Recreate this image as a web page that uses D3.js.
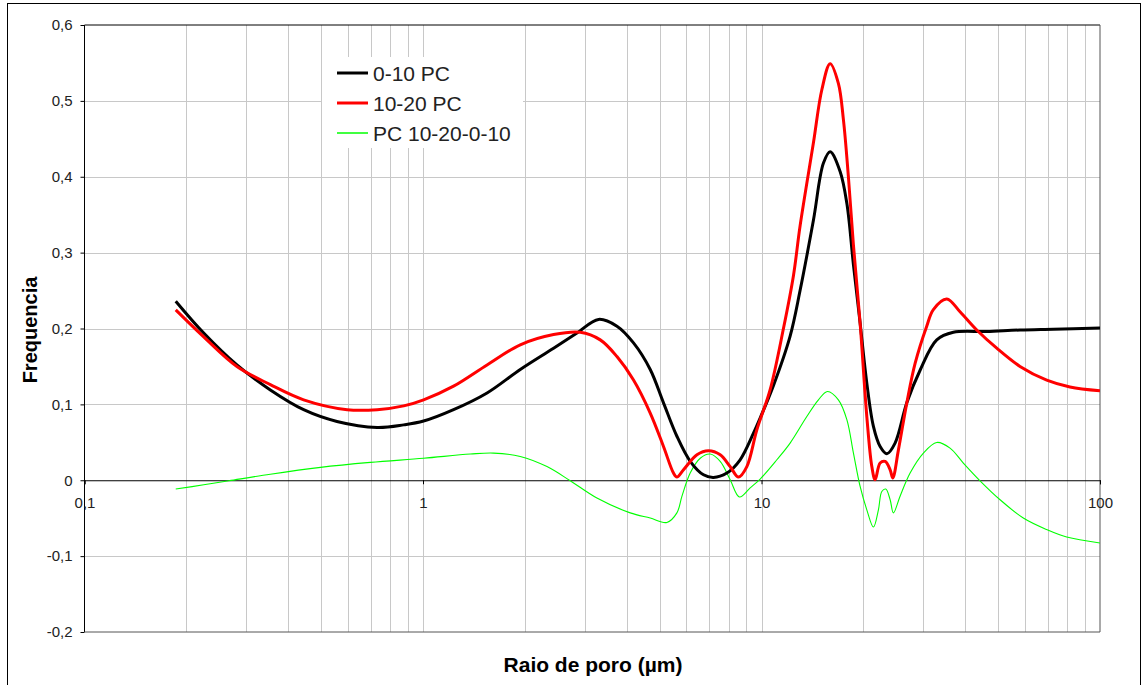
<!DOCTYPE html>
<html>
<head>
<meta charset="utf-8">
<script src="https://cdn.jsdelivr.net/npm/d3@7"></script>
<style>
  body { margin: 0; background: #fff; }
  text { font-family: "Liberation Sans", Arial, sans-serif; }
</style>
</head>
<body>
<svg id="chart" width="1145" height="685"></svg>
<script>
// Axis ticks
const xTickValues = [0.1, 1, 10, 100];
const xTickLabels = ["0,1", "1", "10", "100"];
const yTickValues = [-0.2, -0.1, 0, 0.1, 0.2, 0.3, 0.4, 0.5, 0.6];

// Series names
const seriesNames = ["0-10 PC", "10-20 PC", "PC 10-20-0-10"];

// 0-10 PC : pore radius (µm) and frequency
const radius0010 = [0.186, 0.225, 0.282, 0.354, 0.444, 0.557, 0.732, 0.877, 1.004, 1.231, 1.546, 1.938, 2.431, 2.850, 3.300, 3.741, 4.187, 4.691, 5.134, 5.624, 6.157, 6.740, 7.214, 7.902, 8.648, 9.468, 9.909, 10.85, 12.15, 13.00, 14.24, 15.24, 15.95, 17.07, 17.87, 18.69, 19.56, 20.47, 21.41, 22.41, 23.46, 24.81, 26.87, 29.41, 32.94, 36.88, 46.28, 58.03, 72.80, 100];
const freq0010   = [0.236, 0.194, 0.152, 0.119, 0.093, 0.0775, 0.0696, 0.073, 0.078, 0.093, 0.115, 0.146, 0.174, 0.194, 0.212, 0.203, 0.181, 0.146, 0.102, 0.058, 0.025, 0.0072, 0.0037, 0.0095, 0.027, 0.062, 0.082, 0.125, 0.19, 0.25, 0.343, 0.418, 0.433, 0.407, 0.365, 0.284, 0.207, 0.128, 0.071, 0.0445, 0.035, 0.049, 0.102, 0.145, 0.185, 0.195, 0.196, 0.198, 0.199, 0.2005];

// 10-20 PC
const radius1020 = [0.186, 0.225, 0.282, 0.354, 0.444, 0.597, 0.732, 0.877, 1.004, 1.231, 1.546, 1.938, 2.431, 2.914, 3.339, 3.741, 4.187, 4.691, 5.134, 5.495, 5.624, 5.883, 6.446, 6.972, 7.550, 8.081, 8.550, 9.052, 9.689, 10.60, 11.61, 12.43, 13.00, 14.24, 15.08, 15.95, 16.87, 17.46, 18.06, 18.69, 19.56, 20.47, 21.18, 21.66, 22.41, 23.19, 23.99, 24.43, 25.38, 26.87, 28.43, 30.77, 32.19, 35.27, 38.59, 43.24, 49.54, 58.03, 69.60, 81.53, 100];
const freq1020   = [0.2246, 0.189, 0.150, 0.126, 0.106, 0.093, 0.093, 0.098, 0.106, 0.124, 0.152, 0.1785, 0.192, 0.195, 0.185, 0.163, 0.132, 0.0885, 0.0445, 0.0095, 0.0042, 0.0138, 0.0336, 0.0389, 0.0336, 0.018, 0.0042, 0.018, 0.0665, 0.119, 0.20, 0.27, 0.335, 0.445, 0.515, 0.549, 0.523, 0.475, 0.40, 0.31, 0.207, 0.084, 0.018, 0.0007, 0.0227, 0.0248, 0.0138, 0.003, 0.040, 0.102, 0.154, 0.203, 0.225, 0.239, 0.222, 0.198, 0.174, 0.150, 0.132, 0.123, 0.118];

// PC 10-20-0-10 (difference)
const radiusDiff = [0.186, 0.225, 0.267, 0.354, 0.498, 0.699, 1.004, 1.380, 1.616, 1.938, 2.324, 2.723, 3.264, 4.095, 4.691, 5.253, 5.624, 5.819, 6.157, 6.592, 7.054, 7.550, 8.081, 8.607, 9.258, 9.909, 11.10, 12.15, 13.61, 14.73, 15.66, 16.87, 17.87, 18.69, 19.56, 20.47, 21.41, 22.15, 22.67, 23.29, 23.99, 24.53, 25.67, 27.48, 30.08, 32.94, 36.06, 39.47, 44.22, 50.67, 59.35, 69.60, 79.72, 100];
const freqDiff   = [-0.0116, -0.006, -0.0007, 0.008, 0.017, 0.0235, 0.029, 0.0345, 0.0358, 0.0314, 0.018, -0.0007, -0.0235, -0.043, -0.0498, -0.0556, -0.043, -0.0213, 0.0095, 0.029, 0.0345, 0.0248, 0.0007, -0.022, -0.010, 0.0016, 0.027, 0.049, 0.084, 0.106, 0.117, 0.106, 0.080, 0.0358, -0.0082, -0.039, -0.0617, -0.039, -0.0148, -0.0116, -0.0257, -0.043, -0.021, 0.0095, 0.0358, 0.0498, 0.0424, 0.0227, -0.0007, -0.0257, -0.0498, -0.065, -0.0748, -0.0827];

const svg = d3.select("#chart");
const plot = { left: 84.5, right: 1100, top: 25, bottom: 632 };

const x = d3.scaleLog().domain([0.1, 100]).range([plot.left, plot.right]);
const y = d3.scaleLinear().domain([-0.2, 0.6]).range([plot.bottom, plot.top]);

const ptLocale = d3.formatLocale({ decimal: ",", thousands: ".", grouping: [3], currency: ["", ""], minus: "-" });
const fmt1 = ptLocale.format(".1f");
const yFormat = v => (Math.abs(v) < 1e-9 ? "0" : fmt1(v));

// Outer chart frame
svg.append("rect")
  .attr("x", 7.5).attr("y", 3.5)
  .attr("width", 1133).attr("height", 700)
  .attr("fill", "#fff").attr("stroke", "#000").attr("stroke-width", 1);

// Gridlines
const grid = svg.append("g").attr("stroke", "#c8c8c8").attr("stroke-width", 1);
yTickValues.filter(v => v > -0.2 && v < 0.6 && v !== 0).forEach(v => {
  grid.append("line")
    .attr("x1", plot.left).attr("x2", plot.right)
    .attr("y1", Math.round(y(v)) + 0.5).attr("y2", Math.round(y(v)) + 0.5);
});
const minorX = [];
[0.1, 1, 10].forEach(dec => {
  for (let k = 1; k <= 9; k++) {
    const v = dec * k;
    if (v > 0.1 + 1e-9) minorX.push(v);
  }
});
minorX.forEach(v => {
  grid.append("line")
    .attr("x1", Math.round(x(v)) + 0.5).attr("x2", Math.round(x(v)) + 0.5)
    .attr("y1", plot.top).attr("y2", plot.bottom);
});

// Plot area border
svg.append("line").attr("x1", plot.left).attr("x2", plot.right).attr("y1", plot.top).attr("y2", plot.top).attr("stroke", "#000");
svg.append("line").attr("x1", plot.left).attr("x2", plot.left).attr("y1", plot.top).attr("y2", plot.bottom).attr("stroke", "#000");
svg.append("line").attr("x1", plot.right).attr("x2", plot.right).attr("y1", plot.top).attr("y2", plot.bottom).attr("stroke", "#555");
svg.append("line").attr("x1", plot.left).attr("x2", plot.right).attr("y1", plot.bottom).attr("y2", plot.bottom).attr("stroke", "#555");

// Y axis
const yAxis = svg.append("g")
  .attr("transform", `translate(${plot.left},0)`)
  .call(d3.axisLeft(y).tickValues(yTickValues).tickSize(4).tickPadding(8).tickFormat(yFormat));
yAxis.select(".domain").remove();
yAxis.selectAll("text").attr("font-size", 15).attr("fill", "#222")
  .style("font-family", '"Liberation Sans", Arial, sans-serif');

// X axis crossing at zero
const xAxis = svg.append("g")
  .attr("transform", `translate(0,${y(0)})`)
  .call(d3.axisBottom(x).tickValues(xTickValues).tickSize(4).tickPadding(13.5)
    .tickFormat((d, i) => xTickLabels[i]));
xAxis.select(".domain").attr("stroke", "#000");
xAxis.selectAll("text").attr("font-size", 15).attr("fill", "#222")
  .style("font-family", '"Liberation Sans", Arial, sans-serif');

// Series lines
svg.append("clipPath").attr("id", "plotClip")
  .append("rect").attr("x", plot.left).attr("y", plot.top)
  .attr("width", plot.right - plot.left).attr("height", plot.bottom - plot.top);

const line = d3.line().x(d => x(d[0])).y(d => y(d[1])).curve(d3.curveCatmullRom.alpha(0.5));
const series = [
  { name: seriesNames[0], xs: radius0010, ys: freq0010, color: "#000000", width: 3 },
  { name: seriesNames[1], xs: radius1020, ys: freq1020, color: "#ff0000", width: 3 },
  { name: seriesNames[2], xs: radiusDiff, ys: freqDiff, color: "#00ff00", width: 1.1 }
];
const lines = svg.append("g").attr("clip-path", "url(#plotClip)");
// draw difference first, then the two profiles
[series[2], series[0], series[1]].forEach(s => {
  lines.append("path")
    .datum(d3.zip(s.xs, s.ys))
    .attr("fill", "none")
    .attr("stroke", s.color)
    .attr("stroke-width", s.width)
    .attr("stroke-linejoin", "round")
    .attr("d", line);
});

// Legend
const legend = svg.append("g");
legend.append("rect").attr("x", 322).attr("y", 57).attr("width", 201).attr("height", 91).attr("fill", "#fff");
series.forEach((s, i) => {
  const cy = 73 + i * 30;
  legend.append("line")
    .attr("x1", 337).attr("x2", 368).attr("y1", cy).attr("y2", cy)
    .attr("stroke", s.color).attr("stroke-width", i === 2 ? 1.5 : 3);
  legend.append("text")
    .attr("x", 373).attr("y", cy).attr("dy", "0.36em")
    .attr("font-size", 21).attr("fill", "#222")
    .text(s.name);
});

// Axis titles
svg.append("text")
  .attr("transform", `translate(37,330) rotate(-90)`)
  .attr("text-anchor", "middle")
  .attr("font-size", 20).attr("font-weight", "bold").attr("fill", "#000")
  .text("Frequencia");
svg.append("text")
  .attr("x", 593).attr("y", 672)
  .attr("text-anchor", "middle")
  .attr("font-size", 21).attr("font-weight", "bold").attr("fill", "#000")
  .text("Raio de poro (µm)");
</script>
</body>
</html>
